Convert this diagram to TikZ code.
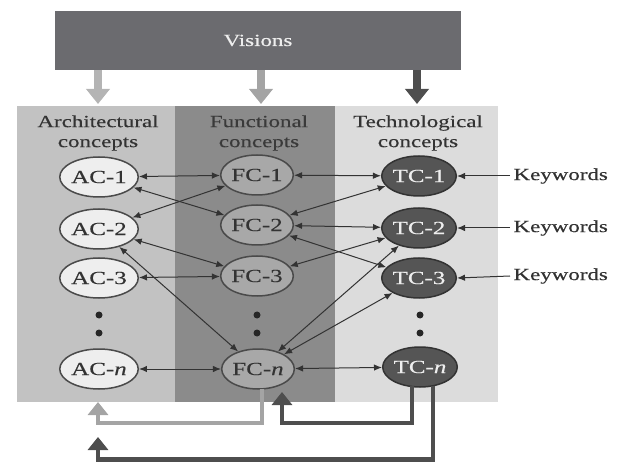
\documentclass[tikz,border=0pt]{standalone}
\usepackage{fontspec}
\setmainfont{Liberation Serif}[FakeStretch=1.35,FakeBold=0.3]
\usetikzlibrary{arrows.meta,shapes.geometric}
\definecolor{visbg}{HTML}{6B6B6F}
\definecolor{archbg}{HTML}{C2C2C2}
\definecolor{funcbg}{HTML}{8B8B8B}
\definecolor{techbg}{HTML}{DCDCDC}
\definecolor{acfill}{HTML}{EEEEEE}
\definecolor{fcfill}{HTML}{A8A8A8}
\definecolor{tcfill}{HTML}{555555}
\definecolor{edge}{HTML}{4A4A4A}
\definecolor{ink}{HTML}{333333}
\definecolor{ftitle}{HTML}{3A3A3A}
\definecolor{lightarr}{HTML}{B4B4B4}
\definecolor{midarr}{HTML}{A4A4A4}
\definecolor{darkarr}{HTML}{4E4E4E}
\begin{document}
\begin{tikzpicture}[x=1pt,y=-1pt,
  cnode/.style={ellipse, minimum width=68pt, minimum height=40pt, inner sep=0pt,
    line width=1.5pt, font=\fontsize{18.5}{20}\selectfont},
  acnode/.style={cnode, draw=edge, fill=acfill, text=ink},
  fcnode/.style={cnode, draw=edge, fill=fcfill, text=ink},
  tcnode/.style={cnode, draw=ink, fill=tcfill, text=acfill},
  ttl/.style={align=center, font=\fontsize{17}{20}\selectfont, text=ink},
  kw/.style={font=\fontsize{17}{18}\selectfont, text=ink, anchor=west},
  cxn/.style={line width=1pt, draw=ink, {Latex[length=8pt,width=6.5pt]}-{Latex[length=8pt,width=6.5pt]}},
  kwarrow/.style={line width=1pt, draw=ink, -{Latex[length=8pt,width=6.5pt]}},
  bigarrow/.style={line width=8pt, -{Triangle[length=15pt,width=23pt]}},
  looparrow/.style={line width=4.5pt, -{Triangle[length=13pt,width=20pt]}},
  dotmark/.style={circle, fill=black!85, inner sep=0pt, minimum size=7pt}
]
\useasboundingbox (0,0) rectangle (621,462);

% panels
\fill[archbg] (17,106) rectangle (175,402);
\fill[funcbg] (175,106) rectangle (335,402);
\fill[techbg] (335,106) rectangle (498,402);
\node[inner sep=0pt, minimum width=158pt, minimum height=296pt] (arch) at (96,254) {};
\node[inner sep=0pt, minimum width=160pt, minimum height=296pt] (func) at (255,254) {};
\node[inner sep=0pt, minimum width=163pt, minimum height=296pt] (tech) at (416.5,254) {};

% visions
\node[fill=visbg, minimum width=406pt, minimum height=59pt, inner sep=0pt,
  text=acfill, font=\fontsize{17}{18}\selectfont] (vis) at (258,40.5) {Visions};

\coordinate (va) at (98,70);  \coordinate (vat) at (98,104);
\coordinate (vf) at (261,70); \coordinate (vft) at (261,104);
\coordinate (vt) at (417,70); \coordinate (vtt) at (417,104);
\draw[bigarrow, lightarr] (va) -- (vat);
\draw[bigarrow, midarr] (vf) -- (vft);
\draw[bigarrow, darkarr] (vt) -- (vtt);

% titles
\node[ttl] (ta) at (98,133) {Architectural\\concepts};
\node[ttl, text=ftitle] (tf) at (259,133) {Functional\\concepts};
\node[ttl] (tt) at (418,133) {Technological\\concepts};

% nodes
\node[acnode] (AC1) at (99,177) {AC-1};
\node[acnode] (AC2) at (99,229) {AC-2};
\node[acnode] (AC3) at (99,278) {AC-3};
\node[acnode] (ACn) at (99,369) {AC-\textit{n}};
\node[fcnode] (FC1) at (257,175) {FC-1};
\node[fcnode] (FC2) at (257,225) {FC-2};
\node[fcnode] (FC3) at (257,276) {FC-3};
\node[fcnode] (FCn) at (258,369) {FC-\textit{n}};
\node[tcnode] (TC1) at (419,176) {TC-1};
\node[tcnode] (TC2) at (419,228) {TC-2};
\node[tcnode] (TC3) at (419,278) {TC-3};
\node[tcnode] (TCn) at (420,367) {TC-\textit{n}};

% dots
\foreach \x/\n in {99/a,257/f,420/t}{
  \node[dotmark] (d1\n) at (\x,315) {};
  \node[dotmark] (d2\n) at (\x,333) {};
}

% connectors
\draw[cxn] (AC1) -- (FC1);
\draw[cxn] (AC1) -- (FC2);
\draw[cxn] (AC2) -- (FC1);
\draw[cxn] (AC2) -- (FC3);
\draw[cxn] (AC2) -- (FCn);
\draw[cxn] (AC3) -- (FC3);
\draw[cxn] (ACn) -- (FCn);
\draw[cxn] (FC1) -- (TC1);
\draw[cxn] (FC2) -- (TC1);
\draw[cxn] (FC2) -- (TC2);
\draw[cxn] (FC2) -- (TC3);
\draw[cxn] (FC3) -- (TC2);
\draw[cxn] (FCn) -- (TC2);
\draw[cxn] (FCn) -- (TC3);
\draw[cxn] (FCn) -- (TCn);

% keywords
\node[kw] (k1) at (510,176) {Keywords};
\node[kw] (k2) at (510,228) {Keywords};
\node[kw] (k3) at (510,276) {Keywords};
\draw[kwarrow] (k1.west) -- (TC1.east);
\draw[kwarrow] (k2.west) -- (TC2.east);
\draw[kwarrow] (k3.west) -- (TC3.east);

% feedback loops
\coordinate (l1s) at (262,389);
\coordinate (l1t) at (98,402);
\draw[looparrow, midarr] (l1s) |- (98,423) -- (l1t);
\coordinate (l2s) at (412,386);
\coordinate (l2t) at (282,392);
\draw[looparrow, darkarr] (l2s) |- (282,423) -- (l2t);
\coordinate (l3s) at (433,386);
\coordinate (l3t) at (98,437);
\draw[looparrow, darkarr] (l3s) |- (98,459.5) -- (l3t);
\end{tikzpicture}
\end{document}
